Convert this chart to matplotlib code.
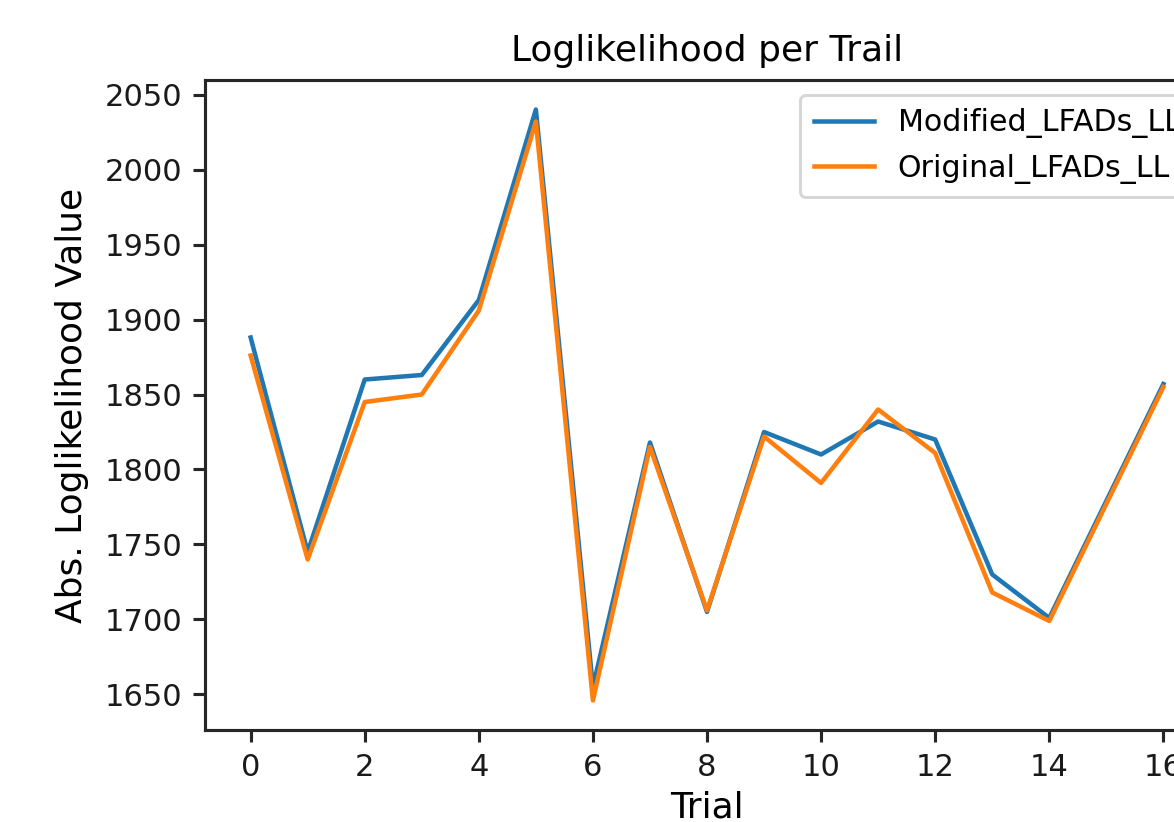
import matplotlib
matplotlib.use("Agg")
import matplotlib.pyplot as plt
import numpy as np

# Trial index and absolute log-likelihood values per trial
trials = np.arange(17)
modified_ll = [1888, 1745, 1860, 1863, 1913, 2040, 1655, 1818, 1705, 1825,
               1810, 1832, 1820, 1730, 1701, 1779, 1857]
original_ll = [1876, 1740, 1845, 1850, 1906, 2032, 1646, 1815, 1706, 1822,
               1791, 1840, 1811, 1718, 1699, 1777, 1855]

s = 2.16  # scale factor relative to default sizes

plt.rcParams['font.family'] = ['DejaVu Sans']
plt.rcParams['axes.linewidth'] = 0.8 * s * 1.3
plt.rcParams['xtick.major.size'] = 3.5 * s * 1.15
plt.rcParams['ytick.major.size'] = 3.5 * s * 1.15
plt.rcParams['xtick.major.width'] = 0.8 * s * 1.3
plt.rcParams['ytick.major.width'] = 0.8 * s * 1.3
plt.rcParams['xtick.major.pad'] = 3.5 * s
plt.rcParams['ytick.major.pad'] = 3.5 * s
plt.rcParams['axes.edgecolor'] = '#262626'

fig = plt.figure(figsize=(11.74, 8.22), dpi=100)
ax = fig.add_axes([205 / 1174, 92 / 822, 1004 / 1174, 650 / 822])

ax.plot(trials, modified_ll, color='#1f77b4', lw=1.5 * s, label='Modified_LFADs_LL')
ax.plot(trials, original_ll, color='#ff7f0e', lw=1.5 * s, label='Original_LFADs_LL')

ax.set_xticks(np.arange(0, 17, 2))
ax.set_yticks(np.arange(1650, 2051, 50))
ax.tick_params(labelsize=10.2 * s, colors='#262626', labelcolor='#1a1a1a')

ax.set_title('Loglikelihood per Trail', fontsize=12 * s, pad=6.5 * s)
ax.set_xlabel('Trial', fontsize=12 * s, labelpad=3 * s)
ax.set_ylabel('Abs. Loglikelihood Value', fontsize=12 * s, labelpad=5.2 * s)

leg = ax.legend(loc='upper right', fontsize=10 * s, framealpha=0.8,
                edgecolor='0.8', borderpad=0.45, handlelength=2.0)
leg.get_frame().set_linewidth(1.0 * s)

fig.savefig('out.png', dpi=100)
